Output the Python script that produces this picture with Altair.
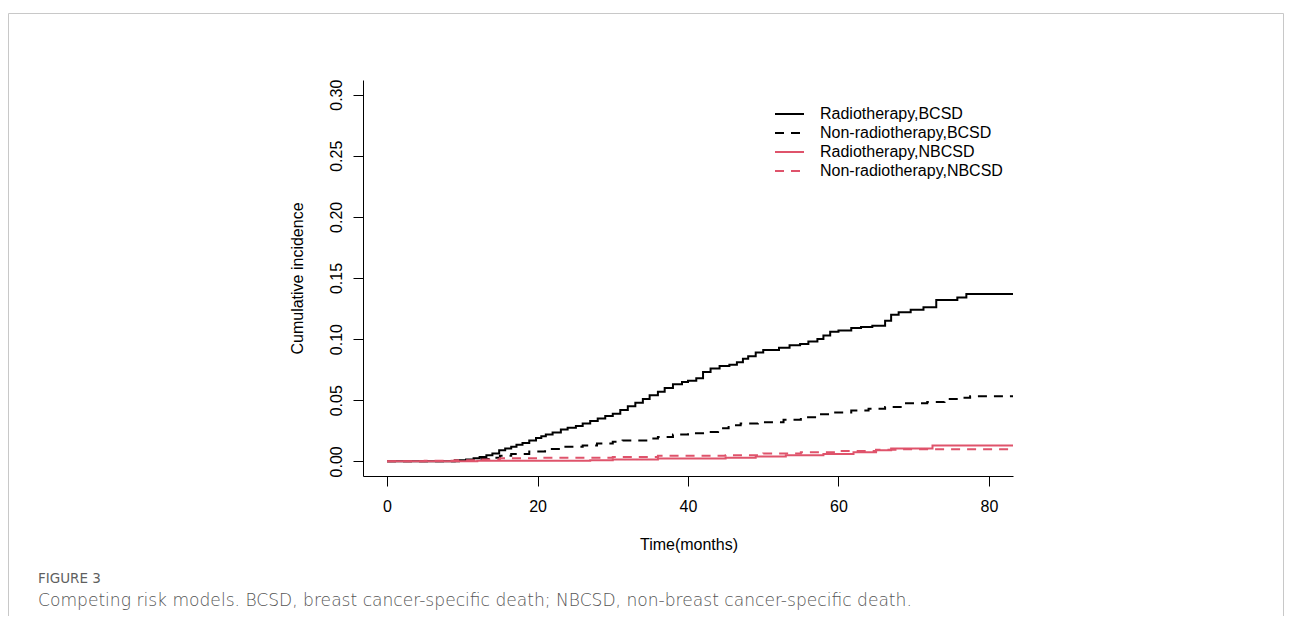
import altair as alt
import pandas as pd

# ---- data ----
series_names = ["Radiotherapy,BCSD", "Non-radiotherapy,BCSD",
                "Radiotherapy,NBCSD", "Non-radiotherapy,NBCSD"]

rt_bcsd_t = [0, 9, 10.5, 11.5, 12.3, 13.2, 14, 14.9, 15.7, 16.5, 17.2, 18, 18.9, 19.8,
             20.5, 21.1, 22, 23.1, 24, 25.1, 26, 27, 28, 29, 30, 31, 32, 33, 34, 34.9,
             36, 36.9, 38, 39.2, 40, 41.1, 42, 43, 44.2, 45.5, 46.5, 47.3, 48, 49, 50,
             52.1, 53.5, 54.9, 56, 57.2, 58, 58.9, 60, 61.7, 63, 64.5, 66.2, 67, 68,
             69.6, 71.3, 73, 75.8, 77, 83.2]
rt_bcsd_v = [0, 0.0008, 0.0015, 0.0025, 0.0035, 0.005, 0.0065, 0.009, 0.0105, 0.012,
             0.0135, 0.015, 0.017, 0.019, 0.0205, 0.022, 0.0235, 0.026, 0.0275, 0.029,
             0.031, 0.033, 0.035, 0.037, 0.039, 0.042, 0.045, 0.048, 0.051, 0.054,
             0.057, 0.06, 0.063, 0.065, 0.066, 0.068, 0.073, 0.076, 0.078, 0.079,
             0.081, 0.084, 0.086, 0.089, 0.091, 0.093, 0.095, 0.096, 0.098, 0.1,
             0.103, 0.106, 0.107, 0.109, 0.11, 0.111, 0.115, 0.12, 0.122, 0.124,
             0.126, 0.132, 0.134, 0.137, 0.137]

nrt_bcsd_t = [0, 10, 12, 13.5, 15, 16.5, 18.9, 21, 23.4, 26, 27.9, 30, 31.3, 34.6, 36,
              38, 40, 42, 44, 45.4, 47, 49.3, 52.7, 55, 57.2, 59, 61.7, 64, 66.2, 68.5,
              71.8, 74.1, 76, 77.5, 83.2]
nrt_bcsd_v = [0, 0.001, 0.002, 0.003, 0.0045, 0.006, 0.008, 0.01, 0.012, 0.013, 0.0145,
              0.016, 0.017, 0.0186, 0.02, 0.022, 0.023, 0.024, 0.027, 0.0295, 0.031,
              0.032, 0.034, 0.036, 0.0385, 0.04, 0.0415, 0.043, 0.0445, 0.0475, 0.0485,
              0.051, 0.052, 0.0533, 0.0533]

rt_nbcsd_t = [0, 12, 27, 30, 36, 45, 49, 53, 58, 62, 65, 67, 72.5, 83.2]
rt_nbcsd_v = [0, 0.0004, 0.0008, 0.0016, 0.0024, 0.003, 0.004, 0.005, 0.006, 0.0075,
              0.009, 0.0105, 0.013, 0.013]

nrt_nbcsd_t = [0, 5, 9, 12, 15, 20, 30, 36, 45, 50, 55, 60, 65, 68, 83.2]
nrt_nbcsd_v = [0, 0.0004, 0.0008, 0.0015, 0.0025, 0.003, 0.0035, 0.0045, 0.005, 0.0065,
               0.0075, 0.0085, 0.0095, 0.0098, 0.0098]

x_ticks = [0, 20, 40, 60, 80]
y_ticks = [0, 0.05, 0.10, 0.15, 0.20, 0.25, 0.30]

caption_label = "FIGURE 3"
caption_text = ("Competing risk models. BCSD, breast cancer-specific death; "
                "NBCSD, non-breast cancer-specific death.")

# ---- build table ----
rows = []
for order, (name, ts, vs) in enumerate(zip(
        series_names,
        [rt_bcsd_t, nrt_bcsd_t, rt_nbcsd_t, nrt_nbcsd_t],
        [rt_bcsd_v, nrt_bcsd_v, rt_nbcsd_v, nrt_nbcsd_v])):
    for t, v in zip(ts, vs):
        rows.append({"series": name, "time": t, "value": v, "ord": order})
df = pd.DataFrame(rows)

RED = "#DF536B"
FONT = "Liberation Sans"

W, H = 650, 396
PAD_L, PAD_T, PAD_R, PAD_B = 355, 72, 271, 140

legend = alt.Legend(
    orient="none", legendX=411, legendY=24.6, title=None,
    symbolType="stroke", symbolSize=29 * 29, symbolStrokeWidth=2,
    labelFont=FONT, labelFontSize=16, labelColor="black", labelOffset=15,
    labelLimit=0, clipHeight=18.7, rowPadding=0, padding=0,
)

lines = alt.Chart(df).mark_line(interpolate="step-after", strokeWidth=2, clip=True).encode(
    x=alt.X("time:Q",
            scale=alt.Scale(domain=[-3.2, 83.2], nice=False, zero=False),
            axis=alt.Axis(values=x_ticks, format="d", title="Time(months)",
                          titleX=W / 2 + 0.5, titleY=68, titleBaseline="middle",
                          titleFontWeight="normal")),
    y=alt.Y("value:Q",
            scale=alt.Scale(domain=[-0.012, 0.312], nice=False, zero=False),
            axis=alt.Axis(values=y_ticks, format=".2f", title="Cumulative incidence",
                          labelAngle=270, labelAlign="center", labelBaseline="alphabetic",
                          labelPadding=12,
                          titleX=-66, titleY=H / 2, titleAngle=270,
                          titleBaseline="middle", titleAlign="center",
                          titleFontWeight="normal")),
    color=alt.Color("series:N",
                    scale=alt.Scale(domain=series_names,
                                    range=["black", "black", RED, RED]),
                    legend=legend),
    strokeDash=alt.StrokeDash("series:N",
                              scale=alt.Scale(domain=series_names,
                                              range=[[1, 0], [9, 7], [1, 0], [9, 7]]),
                              legend=legend),
    order=alt.Order("ord:Q"),
)

frame_df = pd.DataFrame({"k": [1]})
frame = alt.Chart(frame_df).mark_rect(fill=None, stroke="#c8c8c8", strokeWidth=1).encode(
    x=alt.value(-354.5), x2=alt.value(920.5), y=alt.value(-66.5), y2=alt.value(600),
)

cap_df = pd.DataFrame({"label": [caption_label], "text": [caption_text]})
cap1 = alt.Chart(cap_df).mark_text(
    align="left", baseline="middle", font="DejaVu Sans", fontSize=13.5,
    color="#5f5f5f").encode(
    x=alt.value(38 - 363), y=alt.value(579 - 80), text="label:N")
cap2 = alt.Chart(cap_df).mark_text(
    align="left", baseline="middle", font="DejaVu Sans", fontSize=17.1,
    fontWeight=300, color="#555555").encode(
    x=alt.value(38 - 363), y=alt.value(601 - 80), text="text:N")

chart = alt.layer(frame, lines, cap1, cap2).properties(
    width=W, height=H, autosize="none",
    padding={"left": PAD_L, "top": PAD_T, "right": PAD_R, "bottom": PAD_B},
).configure_view(stroke=None).configure_axis(
    grid=False, domainColor="black", domainWidth=1, tickColor="black", tickWidth=1,
    tickSize=10, labelFont=FONT, labelFontSize=16, labelColor="black",
    titleFont=FONT, titleFontSize=16, titleColor="black",
).configure_axisX(labelPadding=12)

chart.save("out.html", embed_options={"renderer": "svg", "actions": False})
